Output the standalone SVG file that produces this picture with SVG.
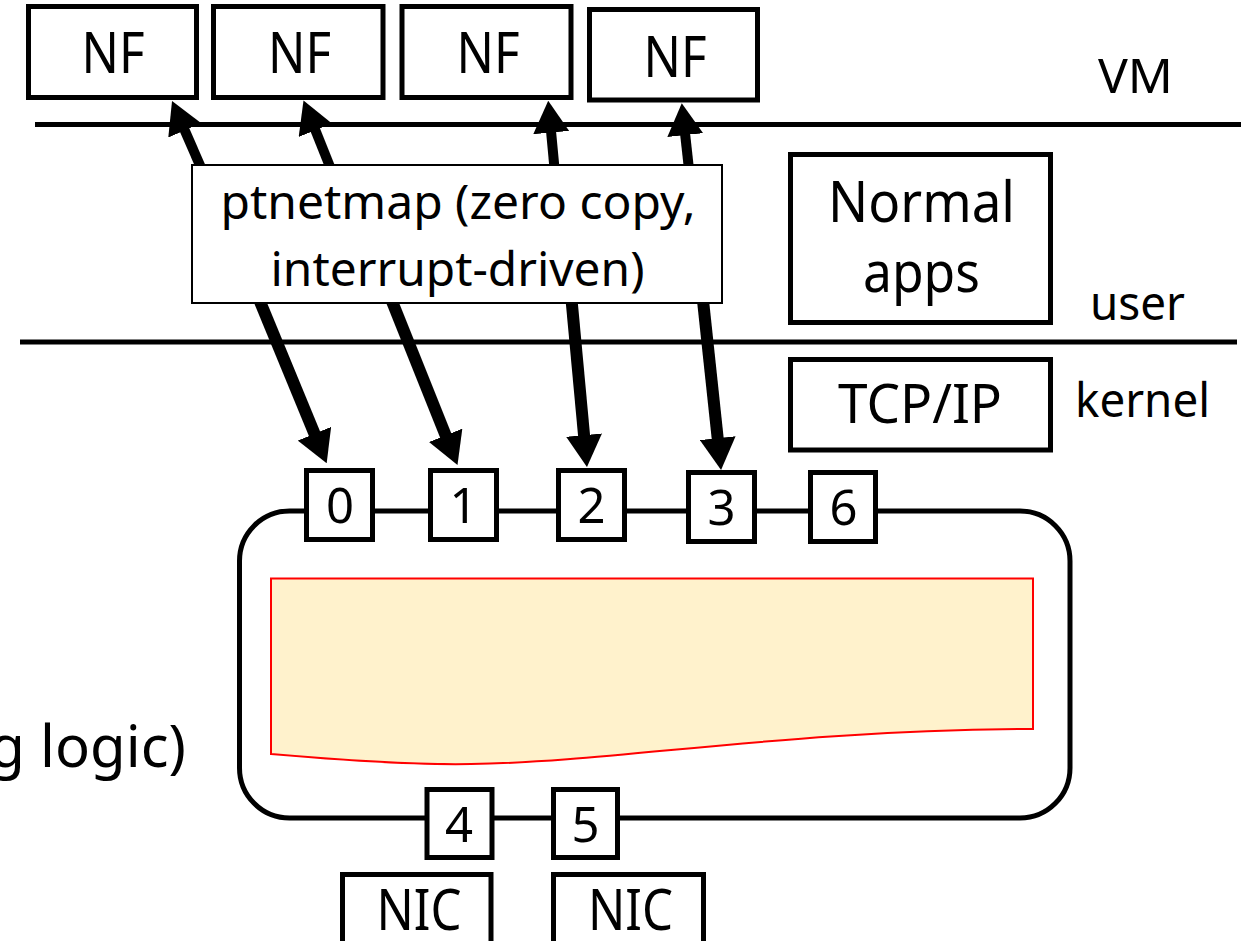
<svg xmlns="http://www.w3.org/2000/svg" width="1241" height="941" viewBox="0 0 1241 941">
<style>
.box{fill:#fff;stroke:#000;stroke-width:5}
.thin{fill:#fff;stroke:#000;stroke-width:2}
.sep{stroke:#000;stroke-width:5;fill:none}
.t{font-family:"Noto Sans","Open Sans","Liberation Sans",sans-serif;fill:#000;text-anchor:middle}
.big{font-size:56px}
.mid{font-size:47px}
.dig{font-size:49px}
.up{stroke:#000;stroke-width:10;fill:none;marker-end:url(#ah)}
.dn{stroke:#000;stroke-width:12;fill:none;marker-end:url(#ah)}
</style>
<defs>
<marker id="ah" markerUnits="userSpaceOnUse" markerWidth="32" markerHeight="36" viewBox="0 0 32 36" refX="4" refY="18" orient="auto">
<path d="M0,0 L32,18 L0,36 Z" fill="#000"/>
</marker>
</defs>
<rect width="1241" height="941" fill="#fff"/>

<g id="layers">
<line class="sep" x1="35" y1="124.5" x2="1241" y2="124.5"/>
<line class="sep" x1="20" y1="342" x2="1237" y2="342"/>
<text class="t mid" x="1135.5" y="93" textLength="75" lengthAdjust="spacingAndGlyphs">VM</text>
<text class="t mid" x="1137.5" y="320" textLength="95" lengthAdjust="spacingAndGlyphs">user</text>
<text class="t mid" x="1142.5" y="417" textLength="135" lengthAdjust="spacingAndGlyphs">kernel</text>
</g>

<g id="switch">
<rect x="239.5" y="511" width="830.5" height="307" rx="50" ry="50" fill="#fff" stroke="#000" stroke-width="5"/>
<path d="M271,578.5 L1033,578.5 L1033,729 C780,730 620,762 471,764 C420,765 340,760 271,754 Z" fill="#FFF2CC" stroke="#FF0000" stroke-width="2"/>
<text class="t" x="186" y="767" font-size="58" style="text-anchor:end">g logic)</text>
</g>

<g id="connectors">
<line class="up" x1="204.2" y1="175" x2="183.2" y2="126.7"/>
<line class="up" x1="333.3" y1="175" x2="313.9" y2="126.5"/>
<line class="up" x1="555.1" y1="175" x2="550.8" y2="128.6"/>
<line class="up" x1="689.6" y1="175" x2="684.8" y2="131.1"/>
<line class="dn" x1="256.5" y1="293" x2="316" y2="437.4"/>
<line class="dn" x1="388.7" y1="293" x2="447.1" y2="439"/>
<line class="dn" x1="570.9" y1="293" x2="584.4" y2="439.1"/>
<line class="dn" x1="702.2" y1="293" x2="718.1" y2="442.1"/>
</g>

<g id="ptnetmap">
<rect class="thin" x="192" y="165" width="530" height="138"/>
<text class="t mid" x="458" y="219" textLength="475" lengthAdjust="spacingAndGlyphs">ptnetmap (zero copy,</text>
<text class="t mid" x="457.5" y="286" textLength="374" lengthAdjust="spacingAndGlyphs">interrupt-driven)</text>
</g>

<g id="nf1"><rect class="box" x="28.5" y="6.5" width="168" height="91"/><text class="t big" x="113" y="73" textLength="63" lengthAdjust="spacingAndGlyphs">NF</text></g>
<g id="nf2"><rect class="box" x="213.5" y="6.5" width="169.5" height="91"/><text class="t big" x="299.5" y="73" textLength="63" lengthAdjust="spacingAndGlyphs">NF</text></g>
<g id="nf3"><rect class="box" x="402" y="6.5" width="169" height="91"/><text class="t big" x="488" y="73" textLength="63" lengthAdjust="spacingAndGlyphs">NF</text></g>
<g id="nf4"><rect class="box" x="589.5" y="9.5" width="168" height="90.5"/><text class="t big" x="675" y="77" textLength="63" lengthAdjust="spacingAndGlyphs">NF</text></g>

<g id="normal-apps"><rect class="box" x="790.5" y="154.5" width="260" height="168"/>
<text class="t big" x="921.5" y="222" textLength="187" lengthAdjust="spacingAndGlyphs">Normal</text>
<text class="t big" x="921.5" y="292" textLength="117" lengthAdjust="spacingAndGlyphs">apps</text></g>

<g id="tcpip"><rect class="box" x="790.5" y="359.5" width="260" height="90.5"/>
<text class="t" font-size="54" x="920" y="423" textLength="164" lengthAdjust="spacingAndGlyphs">TCP/IP</text></g>

<g id="port0"><rect class="box" x="306.5" y="470.5" width="66" height="69"/><text class="t dig" x="340" y="523">0</text></g>
<g id="port1"><rect class="box" x="430.5" y="470.5" width="66" height="69"/><text class="t dig" x="463.5" y="523">1</text></g>
<g id="port2"><rect class="box" x="558.5" y="470.5" width="66" height="69"/><text class="t dig" x="591.5" y="523">2</text></g>
<g id="port3"><rect class="box" x="688.5" y="472.5" width="66" height="69"/><text class="t dig" x="721.5" y="525">3</text></g>
<g id="port6"><rect class="box" x="810.5" y="472.5" width="65" height="69"/><text class="t dig" x="843.5" y="525">6</text></g>
<g id="port4"><rect class="box" x="427" y="789.5" width="65" height="68"/><text class="t dig" x="459" y="842">4</text></g>
<g id="port5"><rect class="box" x="553.5" y="789.5" width="64" height="68"/><text class="t dig" x="585.5" y="842">5</text></g>

<g id="nic1"><rect class="box" x="342.5" y="874.5" width="148.5" height="100"/><text class="t big" x="419" y="930" textLength="85" lengthAdjust="spacingAndGlyphs">NIC</text></g>
<g id="nic2"><rect class="box" x="553.5" y="874.5" width="150" height="100"/><text class="t big" x="630.5" y="930" textLength="85" lengthAdjust="spacingAndGlyphs">NIC</text></g>
</svg>
